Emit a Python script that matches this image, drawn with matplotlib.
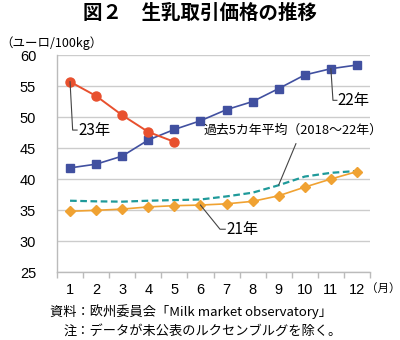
import matplotlib
matplotlib.use("Agg")
import matplotlib.pyplot as plt

plt.rcParams['font.family'] = ['Noto Sans CJK JP', 'DejaVu Sans']

months = list(range(1, 13))
month_labels = [str(m) for m in months]
y2022 = [41.8, 42.4, 43.7, 46.3, 48.0, 49.4, 51.2, 52.5, 54.6, 56.8, 57.8, 58.4]
y2023 = [55.7, 53.4, 50.3, 47.6, 46.0]
y2021 = [34.8, 34.95, 35.15, 35.5, 35.7, 35.8, 36.0, 36.4, 37.3, 38.7, 40.0, 41.2]
avg5 = [36.5, 36.4, 36.35, 36.5, 36.6, 36.7, 37.2, 37.8, 39.0, 40.4, 41.0, 41.3]
yticks = [25, 30, 35, 40, 45, 50, 55, 60]

c22 = '#4150a0'
c23 = '#e8502e'
c21 = '#f0a232'
cavg = '#1f9a9a'

fig = plt.figure(figsize=(4.0, 3.4), dpi=100)
ax = fig.add_axes([0.1425, 0.2, 0.7825, 0.638])

ax.plot(months, avg5, color=cavg, lw=1.6, ls=(0, (3, 1.6)), zorder=2)
ax.plot(months, y2021, color=c21, lw=1.2, marker='D', ms=5.5, mec=c21, zorder=3)
ax.plot(months, y2022, color=c22, lw=1.2, marker='s', ms=6, mec=c22, zorder=3)
ax.plot(months[:len(y2023)], y2023, color=c23, lw=1.4, marker='o', ms=6.5, mec=c23, zorder=4)

ax.set_xlim(0.5, 12.5)
ax.set_ylim(25, 60)
ax.set_yticks(yticks)
ax.set_xticks(months)
ax.set_xticklabels(month_labels)
ax.set_xticks([m + 0.5 for m in range(0, 13)], minor=True)
ax.tick_params(axis='x', which='major', length=0, pad=8, labelsize=10.5)
ax.tick_params(axis='x', which='minor', length=4, color='#bbbbbb', width=1)
ax.tick_params(axis='y', length=0, pad=15, labelsize=10.5)
for lab in ax.get_xticklabels() + ax.get_yticklabels():
    lab.set_family(['Liberation Sans', 'DejaVu Sans'])
ax.grid(axis='y', color='#cccccc', lw=1)
ax.set_axisbelow(True)
for s in ['top', 'right']:
    ax.spines[s].set_visible(False)
ax.spines['left'].set_color('#bbbbbb')
ax.spines['bottom'].set_color('#bbbbbb')
ax.spines['left'].set_linewidth(1)
ax.spines['bottom'].set_linewidth(1)

# series labels with leader lines
lc = '#444444'
ax.plot([1, 1.1, 1.27], [y2023[0], 47.9, 47.9], color=lc, lw=0.8, zorder=5)
ax.text(1.32, 47.9, '23年', fontsize=11, va='center', ha='left')

ax.plot([11, 11.08, 11.23], [y2022[10], 52.7, 52.7], color=lc, lw=0.8, zorder=5)
ax.text(11.27, 52.7, '22年', fontsize=11, va='center', ha='left')

ax.plot([9.66, 9.0], [45.7, 39.05], color=lc, lw=0.8, zorder=5)
ax.text(6.1, 47.8, '過去5カ年平均（2018～22年）', fontsize=9.3, va='center', ha='left')

ax.plot([6, 6.75, 6.95], [y2021[5], 31.9, 31.9], color=lc, lw=0.8, zorder=5)
ax.text(7.0, 31.9, '21年', fontsize=11, va='center', ha='left')

fig.text(0.5, 0.962, '図２　生乳取引価格の推移', fontsize=14, fontweight='bold',
         ha='center', va='center')
fig.text(0.0, 0.873, '（ユーロ/100kg）', fontsize=9, ha='left', va='center')
fig.text(0.915, 0.153, '（月）', fontsize=8.3, ha='left', va='center')
fig.text(0.125, 0.085, '資料：欧州委員会「Milk market observatory」', fontsize=9.5,
         ha='left', va='center')
fig.text(0.16, 0.027, '注：データが未公表のルクセンブルグを除く。', fontsize=9.5,
         ha='left', va='center')

fig.savefig('out.png', dpi=100)
